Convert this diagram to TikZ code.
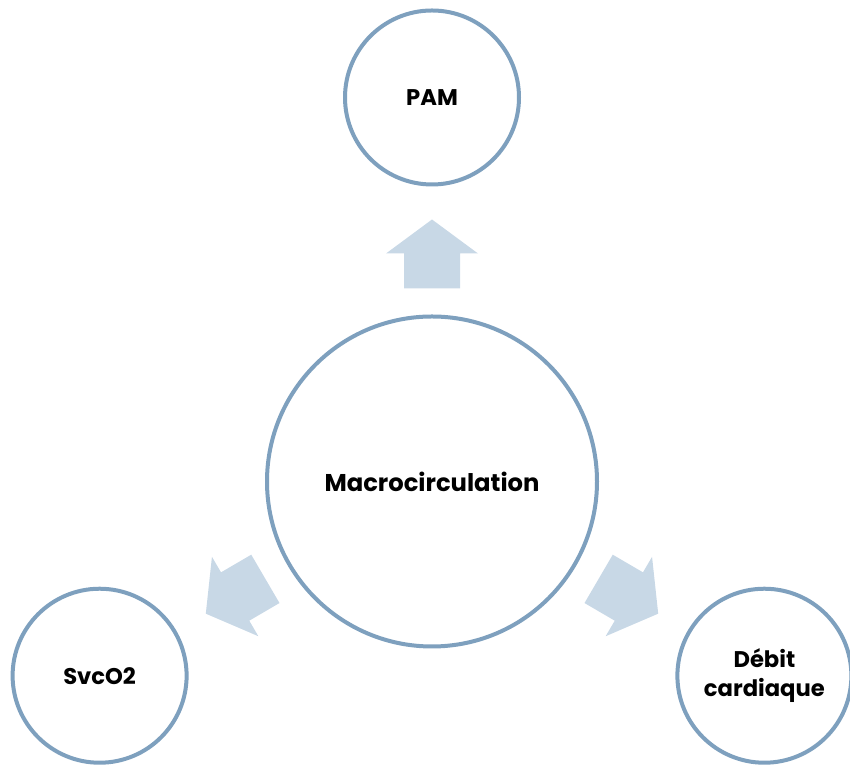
\documentclass[tikz,border=0pt]{standalone}
\usepackage{fontspec}
\setmainfont{Poppins}
\usepackage{tikz}
\usetikzlibrary{positioning}
\definecolor{ringblue}{RGB}{126,160,190}
\definecolor{arrowblue}{RGB}{200,216,230}

\begin{document}
\begin{tikzpicture}
[x=0.75pt,y=0.75pt,line width=3pt,node distance=96pt]
\tikzstyle{hub}=[circle,draw=ringblue,fill=white,minimum size=247.5pt,inner sep=0pt,font=\fontsize{18.2}{22}\selectfont\bfseries]
\tikzstyle{spoke}=[circle,draw=ringblue,fill=white,minimum size=130.5pt,inner sep=0pt,align=center,font=\fontsize{17}{22}\selectfont\bfseries]
\useasboundingbox (0,0) rectangle (850,766);
\node[hub] (m) at (432,284.5) {Macrocirculation};
\node[spoke] (pam) [above=of m] {PAM};
\node[spoke] (svc) at ([shift={(210.3:385)}]m.center) {SvcO2};
\node[spoke] (deb) at ([shift={(329.7:385)}]m.center) {Débit\\cardiaque};

% block arrows from the hub to each circle
\foreach \a in {90,210.3,329.7}
  \fill[arrowblue,shift={(m.center)},rotate=\a]
    (193,-28) -- (228,-28) -- (228,-46) -- (262,0) -- (228,46) -- (228,28) -- (193,28) -- cycle;
\end{tikzpicture}
\end{document}
